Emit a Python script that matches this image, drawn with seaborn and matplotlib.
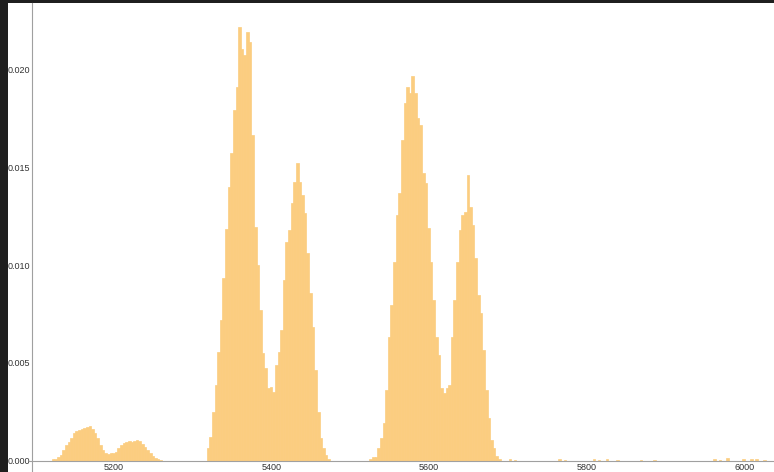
import matplotlib
matplotlib.use("Agg")
import matplotlib.pyplot as plt
from matplotlib.patches import Rectangle
from matplotlib.ticker import MultipleLocator, FormatStrFormatter
import numpy as np
import pandas as pd
import seaborn as sns

# histogram grid (density values)
bin_width = 10 / 3
grid_start = 5121.0
n_bins = 276

# small double bump near 5150-5250
bump_start = 0
bump_heights = [0.00007, 0.0001, 0.00017, 0.00029, 0.00055, 0.0008, 0.00097, 0.00114,
                0.0014, 0.00154, 0.00157, 0.00162, 0.00165, 0.00174, 0.00177, 0.0016,
                0.00143, 0.00114, 0.0008, 0.00055, 0.00038, 0.00034, 0.00038, 0.00038,
                0.00046, 0.00063, 0.0008, 0.00092, 0.00097, 0.00102, 0.00097, 0.00102,
                0.00106, 0.00102, 0.00085, 0.00068, 0.00055, 0.00041, 0.00024, 0.00012,
                0.00007, 0.00003]

# peak pair around 5360 / 5425
left_start = 59
left_heights = [0.00063, 0.00123, 0.00251, 0.00387, 0.00558, 0.0072, 0.00933, 0.01184,
                0.01402, 0.01576, 0.01795, 0.01914, 0.0222, 0.02105, 0.02076, 0.02192,
                0.02144, 0.01667, 0.01198, 0.01001, 0.00771, 0.00549, 0.00473, 0.0037,
                0.00379, 0.00353, 0.0049, 0.00558, 0.00669, 0.00925, 0.01121, 0.0118,
                0.01317, 0.01428, 0.01522, 0.01428, 0.0136, 0.01266, 0.01061, 0.00856,
                0.00686, 0.00464, 0.00251, 0.00114, 0.00063, 0.00029, 0.0001]

# peak pair around 5570 / 5640
right_start = 121
right_heights = [0.0001, 0.0002, 0.0002, 0.00063, 0.00114, 0.00191, 0.00362, 0.00635,
                 0.00797, 0.01018, 0.01257, 0.01368, 0.01641, 0.01829, 0.01914, 0.0188,
                 0.01969, 0.0188, 0.01752, 0.01718, 0.0147, 0.01419, 0.01189, 0.01018,
                 0.00822, 0.00635, 0.00541, 0.0037, 0.00345, 0.0037, 0.00387, 0.00635,
                 0.00822, 0.01018, 0.0118, 0.01257, 0.01274, 0.01462, 0.013, 0.01206,
                 0.01035, 0.00848, 0.00754, 0.00566, 0.00362, 0.00217, 0.00106, 0.00063,
                 0.00024, 0.00007]

# sparse tail of single counts
tail_x = [5703, 5710, 5765, 5772, 5808, 5815, 5826, 5838, 5870, 5885, 5962, 5968,
          5981, 5999, 6011, 6016, 6025]
tail_h = [0.00007, 0.00005, 0.00006, 0.00005, 0.00007, 0.00005, 0.00006, 0.00005,
          0.00005, 0.00005, 0.00006, 0.00005, 0.00014, 0.00007, 0.00007, 0.00006, 0.00005]

# ---- assemble bins
heights = np.zeros(n_bins)
for start, vals in [(bump_start, bump_heights), (left_start, left_heights),
                    (right_start, right_heights)]:
    heights[start:start + len(vals)] = vals
for x, h in zip(tail_x, tail_h):
    heights[int((x - grid_start) // bin_width)] += h

centers = grid_start + bin_width * (np.arange(n_bins) + 0.5)
df = pd.DataFrame({"x": centers, "w": heights})

sns.set_style("white")
plt.rcParams["font.family"] = ["Liberation Sans", "DejaVu Sans"]

fig = plt.figure(figsize=(7.74, 4.72), dpi=100)
fig.patch.set_facecolor("#1f1f1f")
fig.patches.append(Rectangle((8 / 774, 0), 1, 1 - 3 / 472, transform=fig.transFigure,
                             facecolor="white", edgecolor="none", zorder=-10))

ax = fig.add_axes([29 / 774, 0, 1 - 29 / 774, 1 - 3 / 472])
ax.set_facecolor("none")

bar_color = "#FBCD80"
sns.histplot(data=df, x="x", weights="w", bins=n_bins,
             binrange=(grid_start, grid_start + n_bins * bin_width), stat="count",
             element="bars", fill=True, color=bar_color, alpha=1,
             edgecolor=bar_color, linewidth=0.5, ax=ax)

ax.set_xlim(5092, 6038)
ax.set_ylim(-0.00058, 0.02342)

for s in ["top", "right"]:
    ax.spines[s].set_visible(False)
ax.spines["left"].set_position(("data", 5096))
ax.spines["bottom"].set_position(("data", 0))
for s in ["left", "bottom"]:
    ax.spines[s].set_color("#a0a0a0")
    ax.spines[s].set_linewidth(0.8)
    ax.spines[s].set_zorder(3)

ax.xaxis.set_major_locator(MultipleLocator(200))
ax.xaxis.set_minor_locator(MultipleLocator(50))
ax.yaxis.set_major_locator(MultipleLocator(0.005))
ax.yaxis.set_minor_locator(MultipleLocator(0.001))
ax.yaxis.set_major_formatter(FormatStrFormatter("%.3f"))

ax.tick_params(which="both", direction="in", color="#a0a0a0", width=0.7,
               labelsize=6.5, labelcolor="#333333")
ax.tick_params(which="major", length=4)
ax.tick_params(which="minor", length=2.5)
ax.tick_params(axis="x", pad=2)
ax.tick_params(axis="y", pad=1.5)

ax.set_xlabel("")
ax.set_ylabel("")

fig.savefig("out.png", dpi=100)
